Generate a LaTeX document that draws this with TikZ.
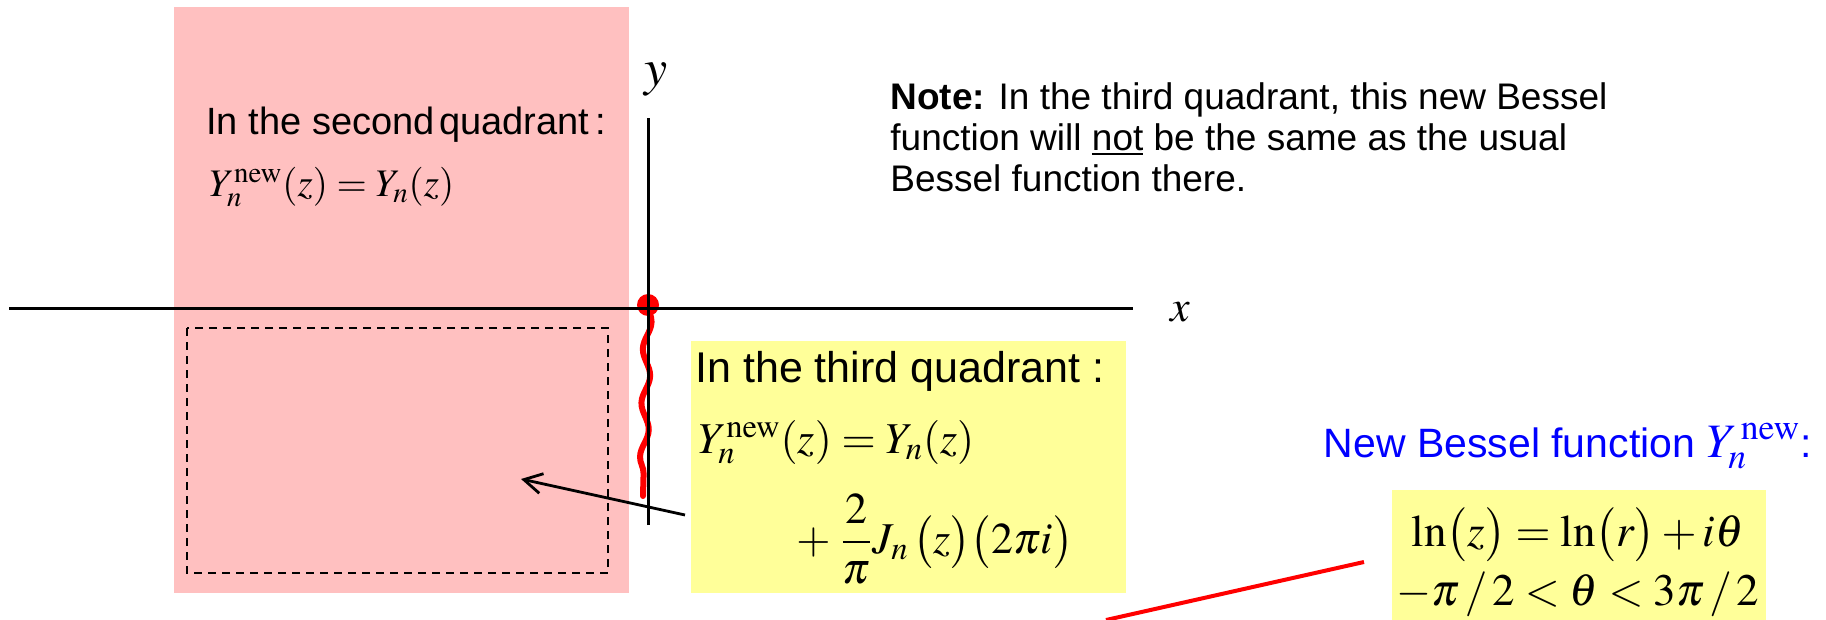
\documentclass[tikz,border=0pt]{standalone}
\usepackage{mathptmx}
\usepackage[no-math]{fontspec}
\setmainfont{Liberation Sans}
\usetikzlibrary{arrows.meta,decorations.pathmorphing}
\definecolor{ink}{HTML}{000000}
\definecolor{quadfill}{HTML}{FFC0C0}
\definecolor{notefill}{HTML}{FFFF99}
\definecolor{cutred}{HTML}{FF0000}
\definecolor{newblue}{HTML}{0000FF}
\newcommand{\thickul}[1]{\setbox0\hbox{#1}\rlap{\rule[-2.6pt]{\wd0}{1.2pt}}\box0\relax}
\tikzset{
  axis/.style={draw=ink, line width=1.5pt},
  axislbl/.style={inner sep=0pt, anchor=center},
  cutbox/.style={draw=ink, line width=1pt, dash pattern=on 4pt off 3pt},
  cut/.style={draw=cutred, line width=3pt, line cap=round, decorate, decoration={snake, amplitude=2pt, segment length=27pt}},
  branchdot/.style={circle, fill=cutred, inner sep=0pt, minimum size=11pt},
  arrow/.style={-{Straight Barb[length=9pt, width=10pt, line width=1.4pt]}, draw=ink, line width=1.4pt},
  pointer/.style={draw=cutred, line width=2pt},
  quadtxt/.style={inner sep=0pt, anchor=base west, font=\fontsize{19}{23}\selectfont},
  quadmath/.style={inner sep=0pt, anchor=base west, font=\fontsize{19.5}{23}\selectfont},
  thirdtxt/.style={inner sep=0pt, anchor=base west, font=\fontsize{21.5}{25}\selectfont},
  thirdmath/.style={inner sep=0pt, anchor=base west, font=\fontsize{22}{26}\selectfont},
  notetxt/.style={inner sep=0pt, anchor=north west, align=left, font=\fontsize{18.5}{20.5}\selectfont},
  bluetxt/.style={inner sep=0pt, anchor=base east, text=newblue, font=\fontsize{20.5}{24}\selectfont},
  lnmath/.style={inner sep=0pt, anchor=base, font=\fontsize{22.5}{27}\selectfont}
}

\begin{document}
\begin{tikzpicture}[x=0.5pt, y=-0.5pt]
  \useasboundingbox (0,0) rectangle (1826,620);

  \fill[quadfill] (174,7) rectangle (629,593);
  \fill[notefill] (691,341) rectangle (1126,593);
  \fill[notefill] (1392,490) rectangle (1766,625);
  \draw[cutbox] (187,328) rectangle (608,573);

  \node[branchdot] (origin) at (648,305) {};
  \coordinate (cutend) at (643,496);
  \draw[cut] (origin.center) -- (cutend);

  \coordinate (xstart) at (9,309);
  \coordinate (xend) at (1133,309);
  \coordinate (ystart) at (648,525);
  \coordinate (yend) at (648,118);
  \draw[axis] (xstart) -- (xend);
  \draw[axis] (ystart) -- (yend);
  \node[axislbl, font=\fontsize{22}{26}\selectfont] (xlbl) at (1180,312) {$x$};
  \node[axislbl, font=\fontsize{26}{30}\selectfont] (ylbl) at (656,80) {$y$};

  \node[quadtxt] (secondtitle) at (206,135) {In the second\hspace{.12em}quadrant\,:};
  \node[quadmath] (secondeq) at (209,197) {$Y_n^{\mathrm{new}}(z)=Y_n(z)$};

  \node[notetxt] (note) at (890,82) {\textbf{Note:} In the third quadrant, this new Bessel\\function will \thickul{not} be the same as the usual\\Bessel function there.};

  \node[thirdtxt] (thirdtitle) at (695,382) {In the third quadrant :};
  \node[thirdmath] (thirdeq) at (698,453) {$Y_n^{\mathrm{new}}(z)=Y_n(z)$};
  \node[thirdmath] (thirdeqb) at (796,553) {$\displaystyle +\;\frac{2}{\pi}J_n\,\bigl(z\bigr)\bigl(2\pi i\bigr)$};

  \coordinate (arrowtail) at (685,515);
  \coordinate (arrowtip) at (521,479);
  \draw[arrow] (arrowtail) -- (arrowtip);

  \node[bluetxt] (newtitle) at (1812,457) {New Bessel function {\fontsize{24}{28}\selectfont$Y_n^{\,\mathrm{new}}$}:};
  \node[lnmath] (lneq) at (1578,546) {$\ln\bigl(z\bigr)=\ln\bigl(r\bigr)+i\theta$};
  \node[lnmath] (lnrange) at (1578,605) {$-\pi\mkern2mu/\mkern2mu2<\theta<3\pi\mkern2mu/\mkern2mu2$};

  \coordinate (pointerfoot) at (1106,620);
  \coordinate (pointertip) at (1364,562);
  \draw[pointer] (pointerfoot) -- (pointertip);
\end{tikzpicture}
\end{document}
